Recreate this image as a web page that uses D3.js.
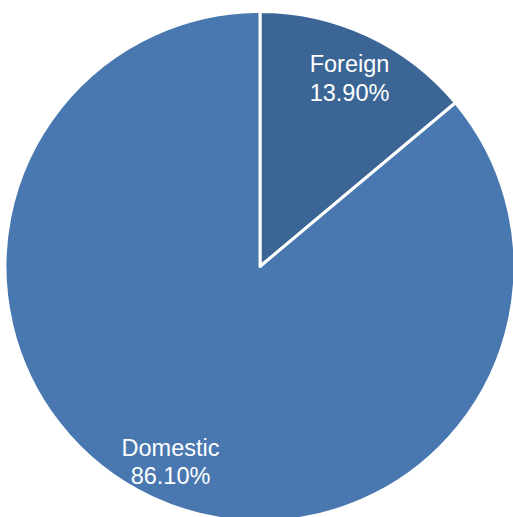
<!DOCTYPE html>
<html><head><meta charset="utf-8">
<script src="https://cdn.jsdelivr.net/npm/d3@7"></script>
<style>html,body{margin:0;padding:0;background:#fff;}svg{display:block;}</style>
</head><body>
<script>
const categories = ["Foreign", "Domestic"];
const values = [13.90, 86.10];
const labels = ["13.90%", "86.10%"];
const colors = ["#3B6594", "#4977AF"];

const W = 513, H = 517;
const cx = 260, cy = 266.5, R = 255;
const svg = d3.select("body").append("svg").attr("width", W).attr("height", H);
const g = svg.append("g").attr("transform", `translate(${cx},${cy})`);
const data = categories.map((c, i) => ({name: c, value: values[i], label: labels[i], color: colors[i]}));
const pie = d3.pie().sort(null).value(d => d.value);
const arc = d3.arc().innerRadius(0).outerRadius(R);
const labelArc = d3.arc().innerRadius(R * 0.83).outerRadius(R * 0.83);
const arcs = pie(data);
g.selectAll("path").data(arcs).join("path")
  .attr("d", arc).attr("fill", d => d.data.color)
  .attr("stroke", "#fff").attr("stroke-width", 3).attr("stroke-linejoin", "round");
const t = g.selectAll("text").data(arcs).join("text")
  .attr("transform", d => { const [x, y] = labelArc.centroid(d); return `translate(${x},${y})`; })
  .attr("text-anchor", "middle").attr("fill", "#fff")
  .style("font-family", "'Liberation Sans', Arial, sans-serif").style("font-size", "23.5px");
t.append("tspan").attr("x", 0).attr("dy", "-0.1em").text(d => d.data.name);
t.append("tspan").attr("x", 0).attr("dy", "1.2em").text(d => d.data.label);
</script>
</body></html>
